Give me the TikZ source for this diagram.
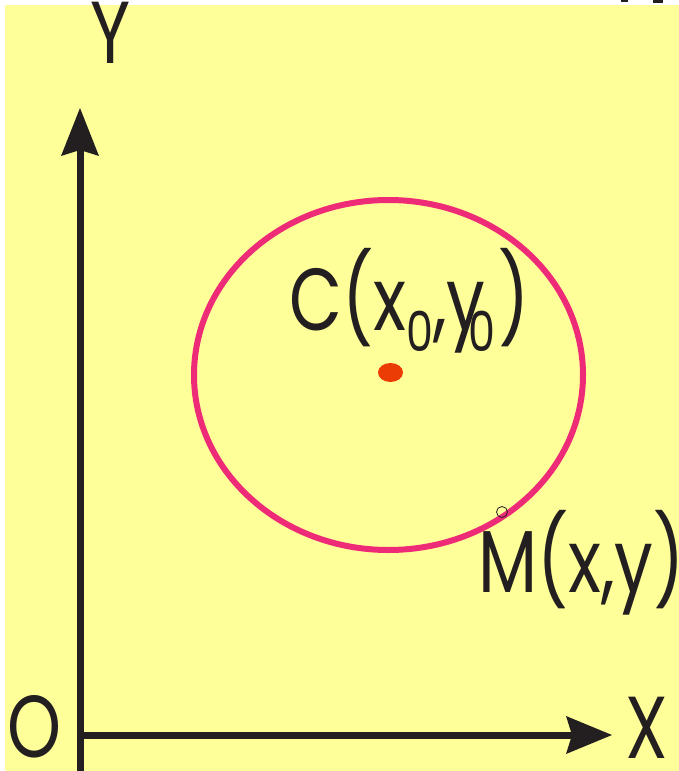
\documentclass[tikz,border=0pt]{standalone}
\usepackage{fontspec}
\setmainfont{Poppins}
\definecolor{bgyellow}{HTML}{FFFF99}
\definecolor{ink}{HTML}{231F20}
\definecolor{ringpink}{HTML}{EE2B77}
\definecolor{dotred}{HTML}{EB3C06}
\newcommand{\bigtxt}{\fontsize{88}{90}\selectfont}
\newcommand{\narrow}[1]{\scalebox{0.78}[1]{\bigtxt #1}}
\newcommand{\subz}{\raisebox{-21pt}{\fontsize{55}{56}\selectfont 0}}
\tikzset{
  lbl/.style={anchor=base west, inner sep=0pt, text=ink},
  axis/.style={draw=ink, line width=7pt},
  tipshape/.style={fill=ink, draw=none}
}
\begin{document}
\begin{tikzpicture}[x=1pt,y=-1pt]
\useasboundingbox (0,0) rectangle (679,771);
\fill[white] (0,0) rectangle (679,771);
\fill[bgyellow] (5,5) rectangle (679,771);
% cut-off fragments at top right
\fill[ink] (621,0) rectangle (628,2);
\fill[ink] (653,0) rectangle (663,2.5);
% axes
\coordinate (ybot) at (80,771);
\coordinate (ytip) at (80,108);
\coordinate (xleft) at (76.5,735);
\coordinate (xtip) at (612,735);
\draw[axis] (ybot) -- (80,140);
\fill[tipshape] (ytip) -- (99,156) -- (80,150) -- (61,156) -- cycle;
\draw[axis] (xleft) -- (580,735);
\fill[tipshape] (xtip) -- (566,754) -- (572,735) -- (566,716) -- cycle;
% circle
\draw[ringpink, line width=6pt] (388.5,375) ellipse [x radius=194.5, y radius=175];
\fill[dotred] (390.5,372.5) ellipse [x radius=12.5, y radius=9.5];
\draw[ink, line width=0.8pt] (502,512) circle [radius=5.5];
% labels
\node[lbl] (ylab) at (90,63) {\narrow{Y}};
\node[lbl] (olab) at (7,757) {\narrow{O}};
\node[lbl] (xlab) at (625,758) {\narrow{X}};
\node[lbl] (clab) at (289,330) {\narrow{C(x\subz,y\kern-22pt\subz\kern4pt)}};
\node[lbl] (mlab) at (478,592) {\narrow{M(x,y)}};
\end{tikzpicture}
\end{document}
